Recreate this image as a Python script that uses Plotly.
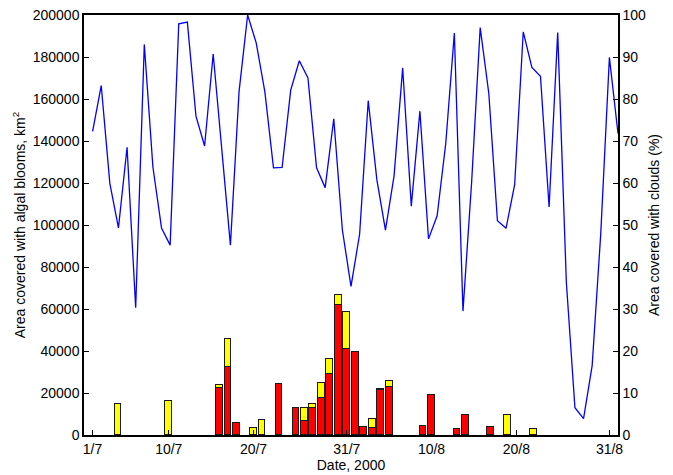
import plotly.graph_objects as go

# Cloud cover (%) per day, 1/7 .. 1/9 (62 values)
cloud_days = list(range(1, 63))
cloud_pct = [72.3, 83.2, 59.9, 49.3, 68.5, 30.3, 93.0, 63.8, 49.3, 45.2,
             97.9, 98.3, 75.9, 68.8, 90.7, 68.0, 45.2, 81.7, 100.0, 93.3,
             81.7, 63.6, 63.7, 82.1, 89.1, 85.0, 63.6, 58.9, 75.3, 48.8,
             35.4, 47.8, 79.6, 60.8, 48.8, 61.7, 87.4, 54.5, 77.1, 46.7,
             52.2, 69.4, 95.7, 29.5, 60.0, 97.0, 81.3, 51.0, 49.2, 59.6,
             96.0, 87.5, 85.4, 54.3, 95.8, 36.5, 6.5, 3.9, 16.5, 48.0,
             89.9, 71.8]

# Algal bloom area (km2): day index (1 = 1/7), red part and yellow part (stacked)
bar_days = [4, 10, 16, 17, 18, 20, 21, 23, 25, 26, 27, 28, 29, 30, 31, 32,
            33, 34, 35, 36, 40, 41, 44, 45, 48, 50, 53]
red_vals = [0, 0, 22500, 32200, 5500, 0, 0, 24100, 12700, 6700, 13000, 17400,
            29000, 61900, 40800, 39300, 4000, 3200, 21500, 23000, 4100, 18900,
            3000, 9700, 3800, 0, 0]
yellow_vals = [14900, 16300, 1150, 13300, 0, 3500, 7100, 0, 0, 6000, 2000, 7600,
               7300, 4700, 17900, 0, 0, 4300, 500, 2700, 0, 0, 0, 0, 0, 9500, 2900]

x_tick_days = [1, 10, 20, 31, 41, 51, 62]
x_tick_labels = ["1/7", "10/7", "20/7", "31/7", "10/8", "20/8", "31/8"]
y_left_ticks = list(range(0, 200001, 20000))
y_right_ticks = list(range(0, 101, 10))

red_plot = [v if v > 0 else None for v in red_vals]
yellow_plot = [v if v > 0 else None for v in yellow_vals]

font = dict(family="Liberation Sans, Arial, Helvetica, sans-serif", size=14, color="black")

fig = go.Figure()
fig.add_trace(go.Bar(x=bar_days, y=red_plot, width=0.8,
                     marker=dict(color="#FF0000", line=dict(color="#1a1a1a", width=1)),
                     xaxis="x", yaxis="y", showlegend=False))
fig.add_trace(go.Bar(x=bar_days, y=yellow_plot, width=0.8,
                     marker=dict(color="#FFFF00", line=dict(color="#1a1a1a", width=1)),
                     xaxis="x", yaxis="y", showlegend=False))
fig.add_trace(go.Scatter(x=cloud_days, y=cloud_pct, mode="lines",
                         line=dict(color="#0000FF", width=1.3),
                         xaxis="x2", yaxis="y2", showlegend=False, cliponaxis=True))

fig.update_layout(
    width=673, height=475,
    margin=dict(l=84, r=55, t=15, b=40),
    paper_bgcolor="white", plot_bgcolor="white",
    barmode="stack", bargap=0,
    font=font,
    xaxis=dict(range=[0, 63], tickvals=x_tick_days, ticktext=x_tick_labels,
               ticks="inside", ticklen=5, tickcolor="black",
               showline=True, linecolor="black", linewidth=1.5, mirror=True,
               showgrid=False, zeroline=False, automargin=False,
               title=dict(text="Date, 2000", standoff=0, font=font),
               tickfont=font),
    xaxis2=dict(range=[0, 62], overlaying="x", visible=False),
    yaxis=dict(range=[0, 200000], tickvals=y_left_ticks,
               ticktext=[str(v) for v in y_left_ticks],
               ticks="inside", ticklen=5, tickcolor="black",
               showline=True, linecolor="black", linewidth=1.5,
               showgrid=False, zeroline=False, automargin=False,
               title=dict(text="Area covered with algal blooms, km<sup>2</sup>", standoff=4, font=font),
               tickfont=font),
    yaxis2=dict(range=[0, 100], tickvals=y_right_ticks,
                overlaying="y", side="right",
                ticks="inside", ticklen=5, tickcolor="black",
                showline=True, linecolor="black", linewidth=1.5,
                showgrid=False, zeroline=False, automargin=False,
                title=dict(text="Area covered with clouds (%)", standoff=4, font=font),
                tickfont=font),
)

fig.write_html("out.html", config={"displayModeBar": False},
               post_script="document.body.style.margin='0';")
